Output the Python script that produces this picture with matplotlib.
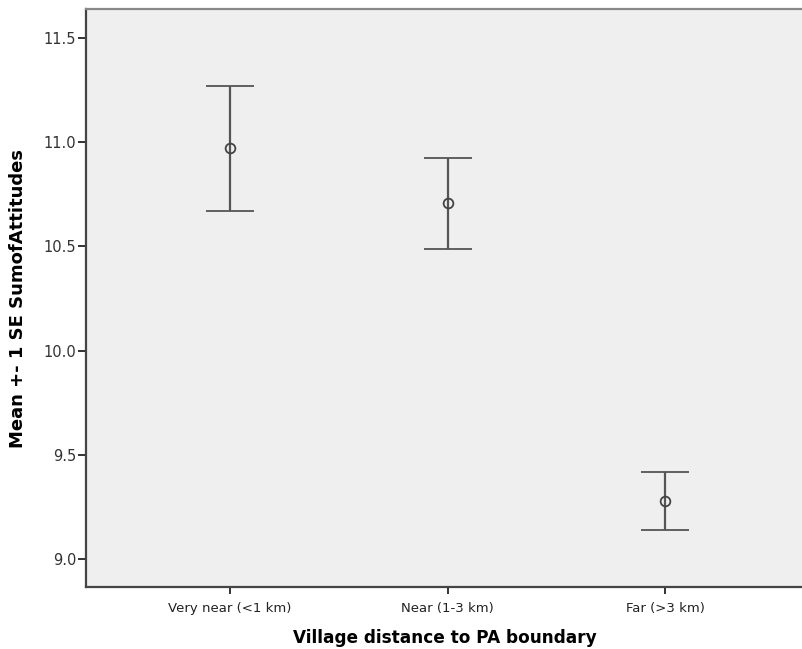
import numpy as np
import matplotlib.pyplot as plt

groups = ["Very near (<1 km)", "Near (1-3 km)", "Far (>3 km)"]
means = [10.972, 10.707, 9.279]
se = [0.300, 0.220, 0.140]
yticks = [9.0, 9.5, 10.0, 10.5, 11.0, 11.5]

plt.rcParams['font.family'] = ['DejaVu Sans']

fig = plt.figure(figsize=(8.03, 6.49), dpi=100)
ax = fig.add_axes([0.1071, 0.0955, 0.8929, 0.8899])
ax.set_facecolor("#efefef")

x = np.arange(len(groups))
ax.errorbar(x, means, yerr=se, fmt="o", mfc="none", mec="#444444",
            ms=7, mew=1.3, ecolor="#555555", elinewidth=1.6,
            capsize=17.6, capthick=1.6)

ax.set_xlim(-0.662, 2.634)
ax.set_ylim(8.865, 11.638)
ax.set_xticks(x)
ax.set_xticklabels(groups, fontsize=9.5, color="#222222")
ax.set_yticks(yticks)
ax.set_yticklabels([f"{v:.1f}" for v in yticks], fontsize=10.5, color="#333333")
ax.tick_params(axis="y", length=6, width=1.4, color="#333333", pad=1)
ax.tick_params(axis="x", length=5, width=1.4, color="#333333", pad=6)

for side in ["left", "bottom"]:
    ax.spines[side].set_color("#444444")
    ax.spines[side].set_linewidth(1.6)
ax.spines["top"].set_color("#888888")
ax.spines["top"].set_linewidth(1.6)
ax.spines["right"].set_visible(False)

ax.set_xlabel("Village distance to PA boundary", fontsize=12.2, fontweight="bold",
              labelpad=10)
ax.set_ylabel("Mean +- 1 SE SumofAttitudes", fontsize=13, fontweight="bold",
              labelpad=12)

fig.savefig("out.png", dpi=100)
